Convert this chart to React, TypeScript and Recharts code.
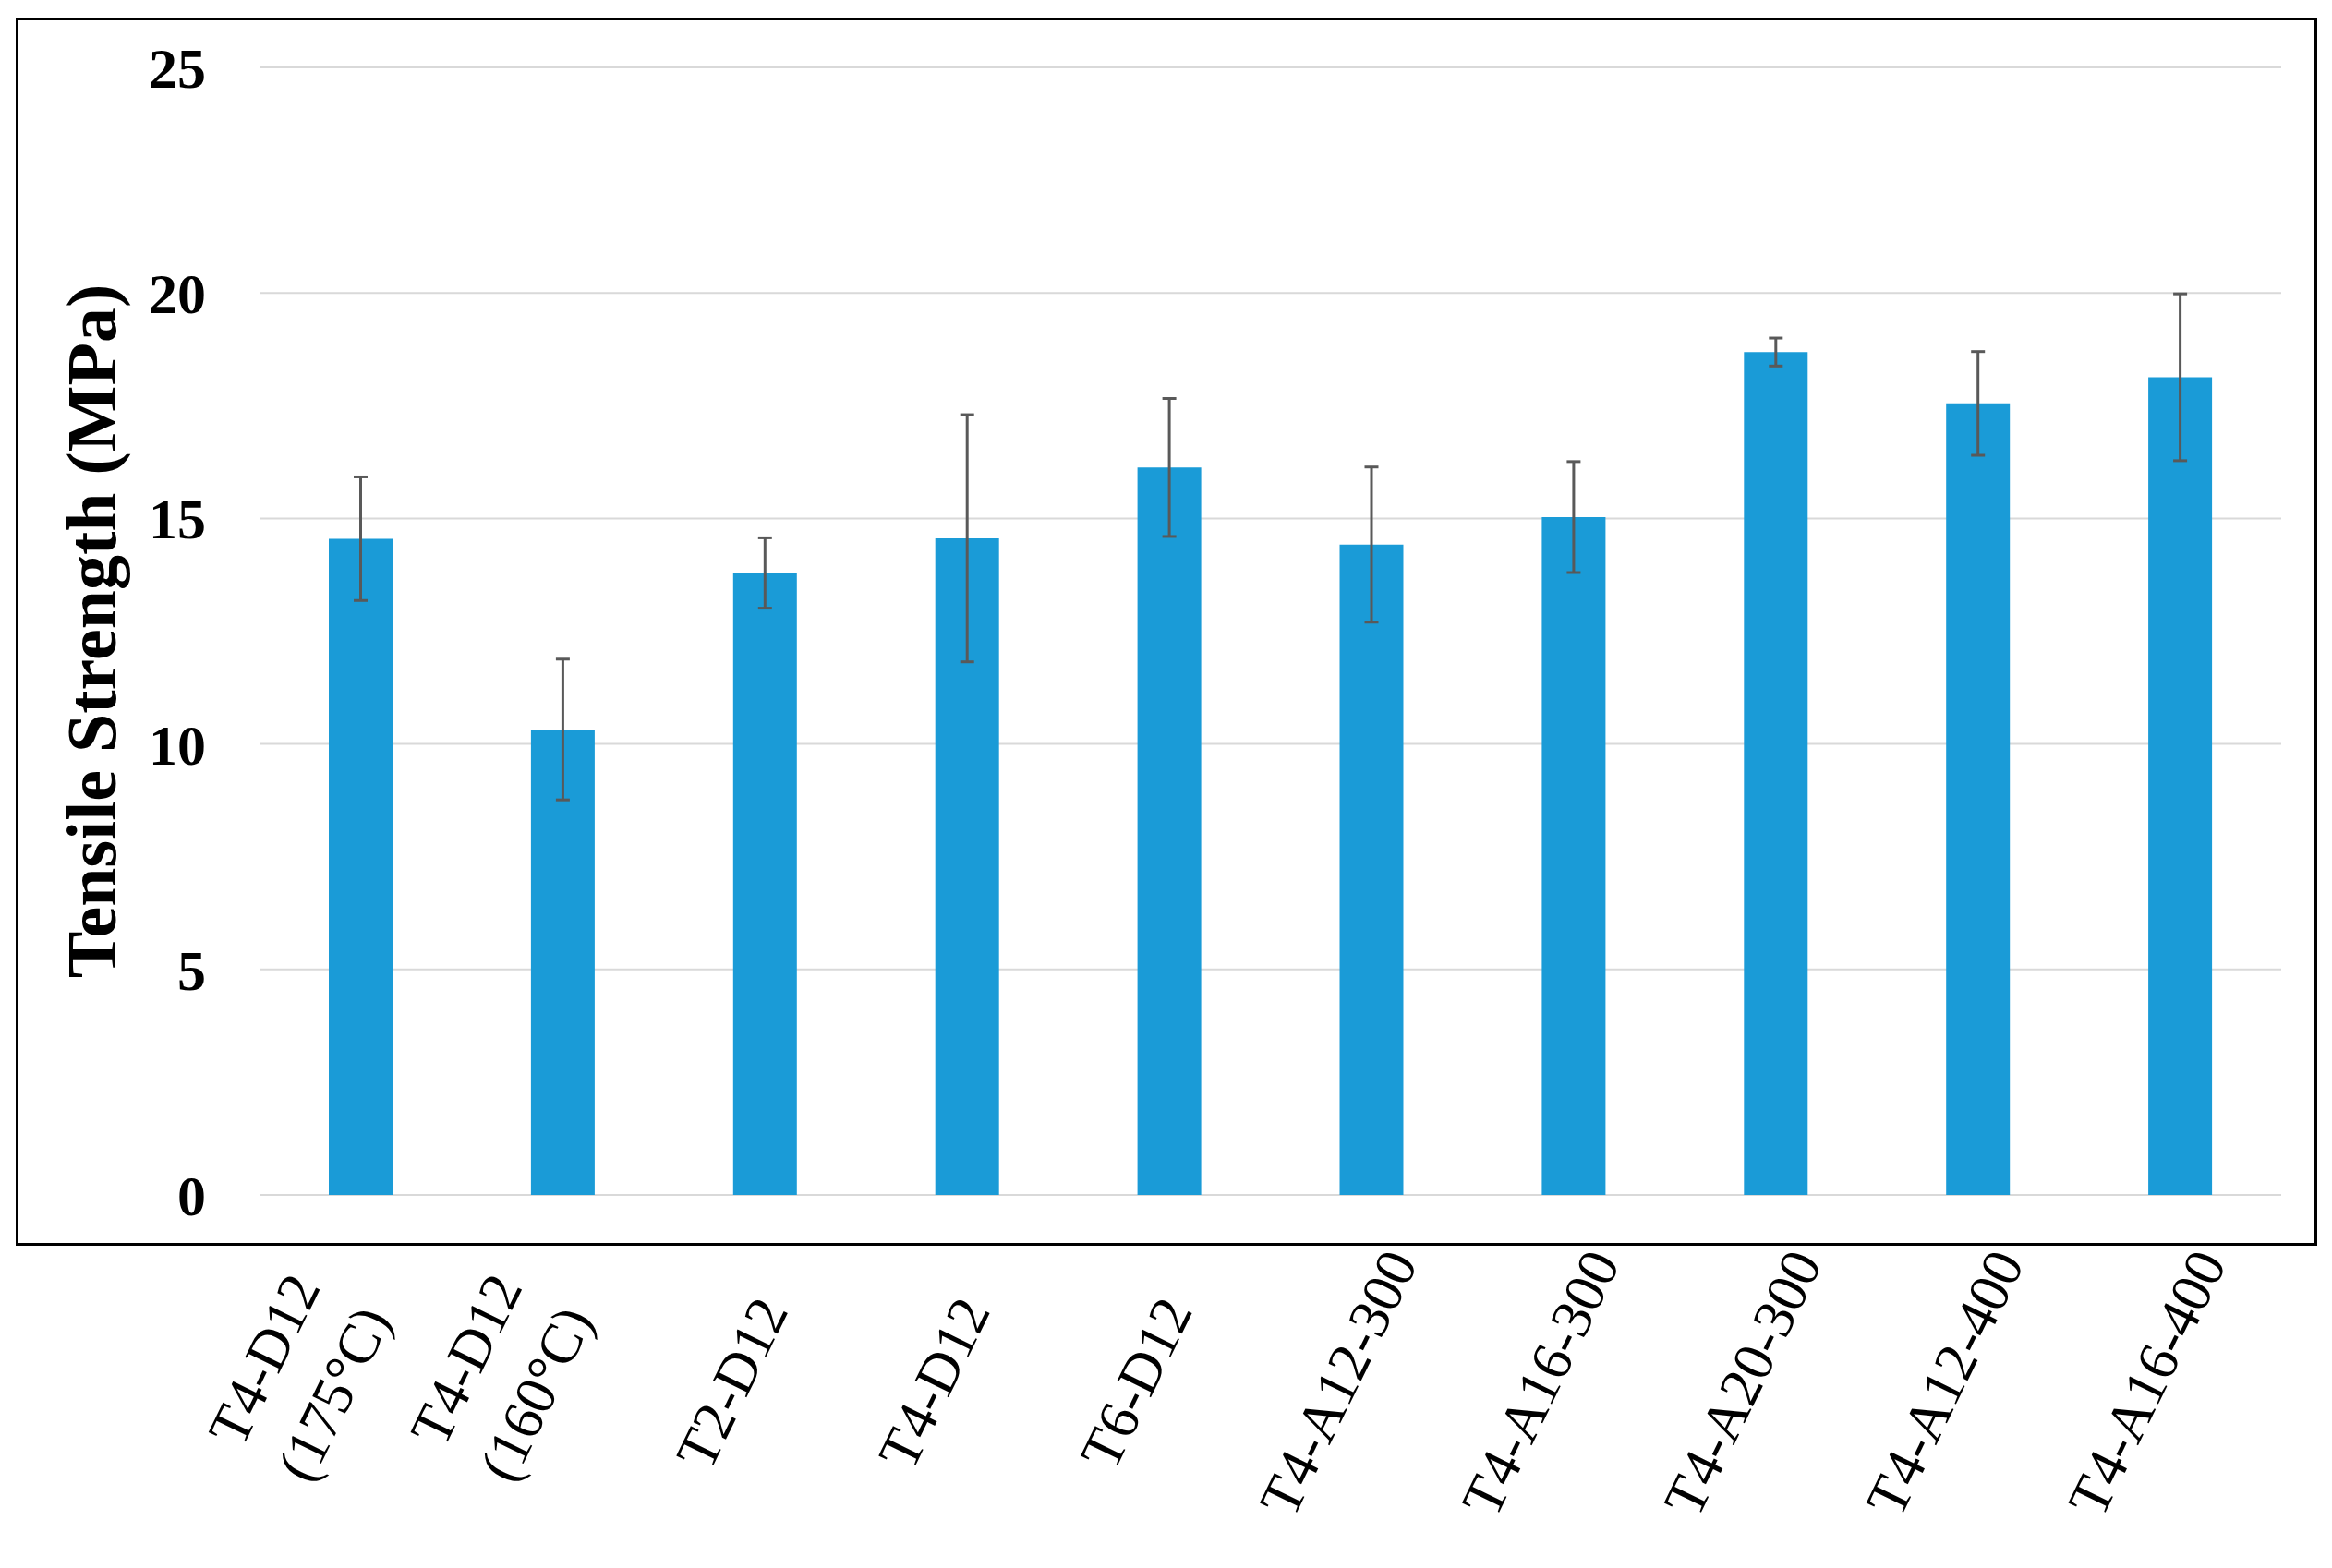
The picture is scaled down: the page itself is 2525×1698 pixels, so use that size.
import { BarChart, Bar, XAxis, YAxis, CartesianGrid, ErrorBar, Label } from "recharts"

const categories = [
  "T4-D12\n(175°C)",
  "T4-D12\n(160°C)",
  "T2-D12",
  "T4-D12",
  "T6-D12",
  "T4-A12-300",
  "T4-A16-300",
  "T4-A20-300",
  "T4-A12-400",
  "T4-A16-400",
]
const strength = [14.55, 10.32, 13.79, 14.56, 16.13, 14.42, 15.03, 18.69, 17.55, 18.13]
const strengthErr = [1.37, 1.56, 0.78, 2.74, 1.53, 1.72, 1.23, 0.31, 1.15, 1.85]
const yTicks = [0, 5, 10, 15, 20, 25]

const chartData = categories.map((name, i) => ({
  name,
  strength: strength[i],
  err: strengthErr[i],
}))

const serif = "'Liberation Serif', 'Times New Roman', serif"

// rotated category labels, multi-line ones centred on the tick
function CategoryTick({ x, y, payload }: any) {
  const lines = String(payload.value).split("\n")
  const n = lines.length
  const ax = x + (n === 1 ? -17 : -48)
  const ay = y + (n === 1 ? 213 : 206)
  return (
    <g transform={`translate(${ax},${ay}) rotate(-64)`}>
      <text textAnchor="middle" fontFamily={serif} fontSize={62} fill="#000">
        {lines.map((line, i) => (
          <tspan key={i} x={0} y={(i - (n - 1) / 2) * 84}>
            {line}
          </tspan>
        ))}
      </text>
    </g>
  )
}

function AxisTitle({ viewBox }: any) {
  const cx = viewBox.x + 98
  const cy = viewBox.y + viewBox.height / 2
  return (
    <text
      x={cx}
      y={cy}
      dy="0.35em"
      transform={`rotate(-90, ${cx}, ${cy})`}
      textAnchor="middle"
      fontFamily={serif}
      fontWeight={700}
      fontSize={76}
      fill="#000"
    >
      Tensile Strength (MPa)
    </text>
  )
}

export default function App() {
  return (
    <div style={{ position: "absolute", left: 0, top: 0, width: 2525, height: 1698, background: "#fff" }}>
      <div
        style={{
          position: "absolute",
          left: 17,
          top: 19,
          width: 2492,
          height: 1330,
          border: "3px solid #000",
          boxSizing: "border-box",
        }}
      />
      <div style={{ position: "absolute", left: 0, top: 0 }}>
        <BarChart
          width={2525}
          height={1698}
          data={chartData}
          margin={{ top: 73, right: 55, bottom: 0, left: 0 }}
        >
          <CartesianGrid vertical={false} stroke="#d9d9d9" strokeWidth={2} />
          <XAxis
            dataKey="name"
            interval={0}
            height={404}
            axisLine={false}
            tickLine={false}
            tickSize={0}
            tickMargin={0}
            tick={<CategoryTick />}
          />
          <YAxis
            width={281}
            domain={[0, 25]}
            ticks={yTicks}
            axisLine={false}
            tickLine={false}
            tickSize={0}
            tickMargin={58}
            tick={{ fill: "#000", fontSize: 62, fontWeight: 700, fontFamily: serif }}
          >
            <Label content={<AxisTitle />} />
          </YAxis>
          <Bar dataKey="strength" fill="#1a9bd7" barSize={69} isAnimationActive={false}>
            <ErrorBar
              dataKey="err"
              direction="y"
              width={7.5}
              strokeWidth={3}
              stroke="#595959"
              isAnimationActive={false}
            />
          </Bar>
        </BarChart>
      </div>
    </div>
  )
}
